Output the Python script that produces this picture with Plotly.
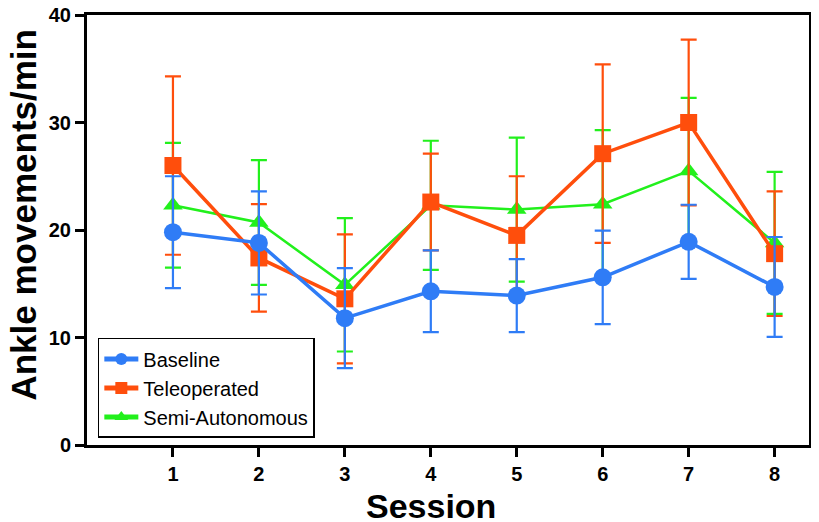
import plotly.graph_objects as go

sessions = [1, 2, 3, 4, 5, 6, 7, 8]
baseline = [19.8, 18.8, 11.8, 14.3, 13.9, 15.6, 18.9, 14.7]
baseline_sd = [5.2, 4.8, 4.65, 3.8, 3.4, 4.35, 3.45, 4.65]
teleop = [26.0, 17.4, 13.6, 22.6, 19.5, 27.1, 30.0, 17.8]
teleop_sd = [8.3, 5.0, 6.0, 4.5, 5.5, 8.3, 7.7, 5.8]
semi = [22.3, 20.7, 14.9, 22.3, 21.9, 22.4, 25.5, 18.8]
semi_sd = [5.8, 5.8, 6.2, 6.0, 6.7, 6.9, 6.8, 6.6]
x_title = "Session"
y_title = "Ankle movements/min"

BLUE = "#2F7CF6"
ORANGE = "#FF4E0C"
GREEN = "#22F01C"
FONT = "Liberation Sans, Arial"

fig = go.Figure()

fig.add_trace(go.Scatter(
    x=sessions, y=semi, name="Semi-Autonomous", mode="lines+markers", legendrank=3,
    line=dict(color=GREEN, width=2.5),
    marker=dict(symbol="triangle-up", size=17, color=GREEN),
    error_y=dict(type="data", array=semi_sd, color=GREEN, thickness=2.2, width=8),
))
fig.add_trace(go.Scatter(
    x=sessions, y=teleop, name="Teleoperated", mode="lines+markers", legendrank=2,
    line=dict(color=ORANGE, width=3.5),
    marker=dict(symbol="square", size=17, color=ORANGE),
    error_y=dict(type="data", array=teleop_sd, color=ORANGE, thickness=2.2, width=8),
))
fig.add_trace(go.Scatter(
    x=sessions, y=baseline, name="Baseline", mode="lines+markers", legendrank=1,
    line=dict(color=BLUE, width=3.5),
    marker=dict(symbol="circle", size=18, color=BLUE),
    error_y=dict(type="data", array=baseline_sd, color=BLUE, thickness=2.2, width=8),
))

fig.add_annotation(
    text="<b>" + x_title + "</b>", xref="paper", yref="paper",
    x=0.4765, y=-0.142, xanchor="center", yanchor="middle", showarrow=False,
    font=dict(size=34, family=FONT, color="black"),
)
fig.add_annotation(
    text="<b>" + y_title + "</b>", xref="paper", yref="paper", textangle=-90,
    x=-0.088, y=0.537, xanchor="center", yanchor="middle", showarrow=False,
    font=dict(size=35, family=FONT, color="black"),
)

fig.update_layout(
    width=811, height=514,
    margin=dict(l=79, r=10, t=7, b=77),
    paper_bgcolor="white", plot_bgcolor="white",
    font=dict(family=FONT, color="black"),
    showlegend=True,
    legend=dict(
        x=0.015, y=0.249, xanchor="left", yanchor="top",
        bordercolor="black", borderwidth=1.5, bgcolor="white",
        font=dict(size=20, family=FONT),
        itemsizing="constant", tracegroupgap=0, itemwidth=34,
    ),
    xaxis=dict(
        range=[0, 8.4], tickmode="array", tickvals=sessions,
        ticktext=[str(s) for s in sessions], automargin=False,
        showgrid=False, zeroline=False,
        showline=True, linecolor="black", linewidth=3, mirror=True,
        ticks="outside", ticklen=9, tickwidth=3, tickcolor="black",
        tickfont=dict(size=20, family=FONT, weight="bold"),
        ticklabeloverflow="allow",
    ),
    yaxis=dict(
        range=[0, 40], tickmode="array", tickvals=[0, 10, 20, 30, 40],
        automargin=False,
        showgrid=False, zeroline=False,
        showline=True, linecolor="black", linewidth=3, mirror=True,
        ticks="outside", ticklen=9, tickwidth=3, tickcolor="black",
        tickfont=dict(size=20, family=FONT, weight="bold"),
        ticklabeloverflow="allow",
    ),
)

fig.write_html("out.html")
